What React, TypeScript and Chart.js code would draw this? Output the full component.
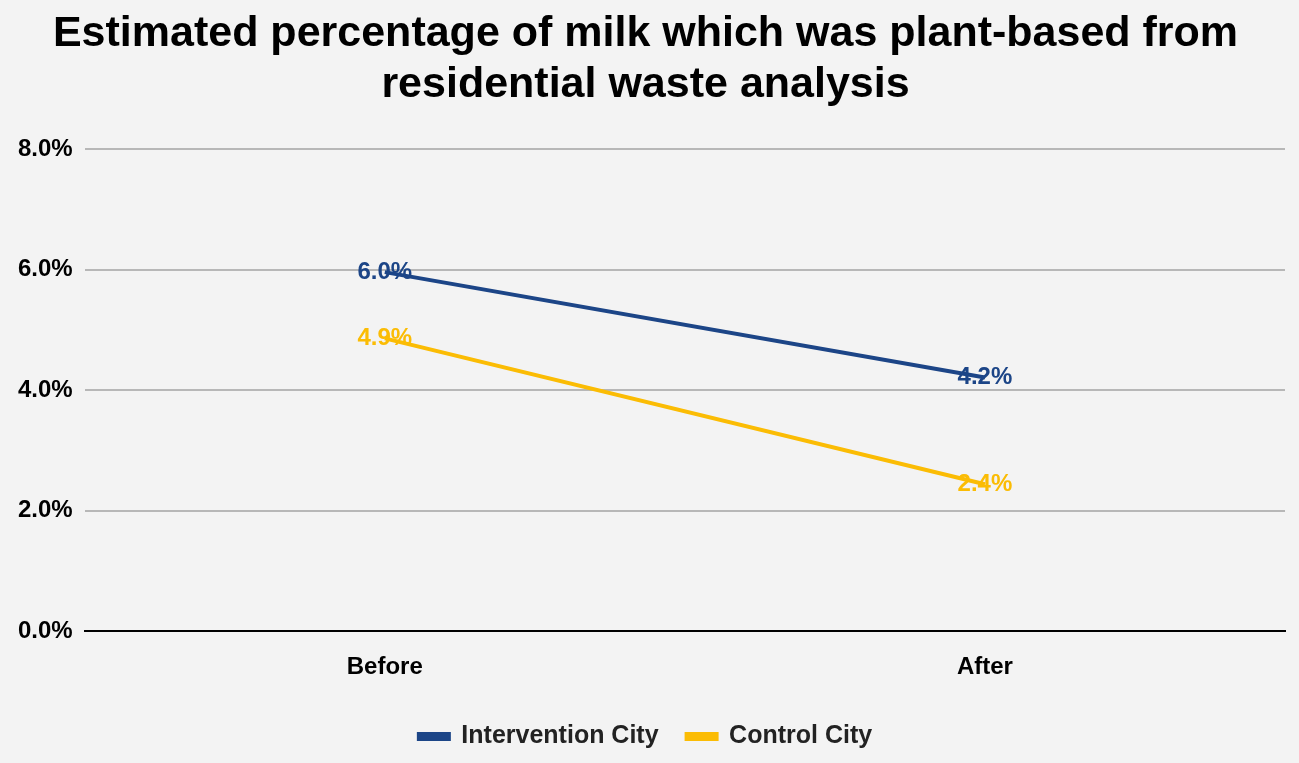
import React, { useEffect, useRef } from "react";
import { Chart, registerables } from "chart.js";
Chart.register(...registerables);

const categories = ["Before", "After"];
const interventionCity = [5.96, 4.21];
const controlCity = [4.86, 2.44];
const yTicks = [0, 2, 4, 6, 8];

const labelPlugin = {
  id: "pointLabels",
  afterDatasetsDraw(chart: any) {
    const ctx = chart.ctx;
    ctx.save();
    ctx.font = "bold 24px 'Liberation Sans', Arial, sans-serif";
    ctx.textAlign = "center";
    ctx.textBaseline = "middle";
    chart.data.datasets.forEach((ds: any, i: number) => {
      chart.getDatasetMeta(i).data.forEach((pt: any, j: number) => {
        ctx.fillStyle = ds.borderColor;
        ctx.fillText(ds.data[j].toFixed(1) + "%", pt.x, pt.y);
      });
    });
    ctx.restore();
  },
};

export default function App() {
  const ref = useRef<HTMLCanvasElement>(null);
  useEffect(() => {
    document.body.style.margin = "0";
    document.body.style.background = "#f3f3f3";
    const font = "'Liberation Sans', Arial, sans-serif";
    const chart = new Chart(ref.current!, {
      type: "line",
      data: {
        labels: categories,
        datasets: [
          { label: "Intervention City", data: interventionCity, borderColor: "#1c4587", backgroundColor: "#1c4587", borderWidth: 4, pointRadius: 0 },
          { label: "Control City", data: controlCity, borderColor: "#fbbc04", backgroundColor: "#fbbc04", borderWidth: 4, pointRadius: 0 },
        ],
      },
      options: {
        animation: false,
        responsive: false,
        layout: { padding: { left: 6, right: 14, top: 0, bottom: 4 } },
        plugins: {
          title: {
            display: true,
            text: ["Estimated percentage of milk which was plant-based from", "residential waste analysis"],
            color: "#000",
            font: { family: font, size: 43, weight: "bold" },
            padding: { top: 8, bottom: 38 },
            lineHeight: 1.2,
          },
          legend: {
            position: "bottom",
            labels: {
              color: "#222",
              font: { family: font, size: 25, weight: "bold" },
              boxWidth: 30,
              boxHeight: 5,
              padding: 28,
              useBorderRadius: false,
            },
          },
          tooltip: { enabled: false },
        },
        scales: {
          x: {
            offset: true,
            grid: { display: false },
            border: { color: "#000", width: 2 },
            ticks: { color: "#000", font: { family: font, size: 24, weight: "bold" }, padding: 14 },
          },
          y: {
            min: 0,
            max: 8,
            afterBuildTicks: (s: any) => { s.ticks = yTicks.map((v) => ({ value: v })); },
            grid: { color: "#b7b7b7", lineWidth: 2, drawTicks: false },
            border: { display: false },
            ticks: { color: "#000", font: { family: font, size: 24, weight: "bold" }, padding: 12, callback: (v: any) => Number(v).toFixed(1) + "%" },
          },
        },
      },
      plugins: [labelPlugin],
    } as any);
    return () => chart.destroy();
  }, []);
  return <canvas ref={ref} width={1299} height={763} style={{ display: "block", background: "#f3f3f3" }} />;
}
